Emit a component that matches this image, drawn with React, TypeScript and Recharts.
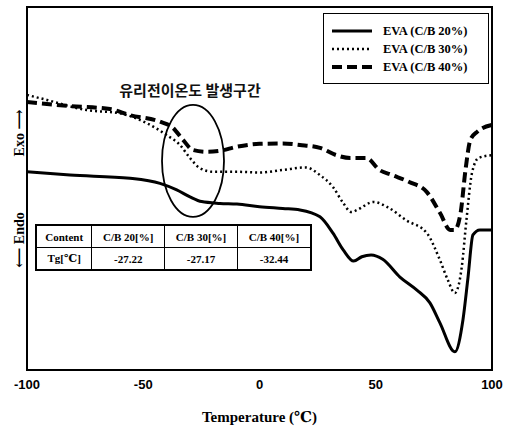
import { LineChart, Line, XAxis, YAxis, ReferenceArea, ReferenceDot } from 'recharts'

const xTicks = [-100, -50, 0, 50, 100]

// C/B 20% (solid)
const temps20 = [-100, -81.5, -55.7, -42.8, -35.6, -29.9, -24.9, -17, -9.7, 0, 10, 17.4, 26, 31.6, 36, 40.5, 44, 48, 53, 60.4, 67.7, 73.3, 77.6, 84, 87.5, 89.7, 91.8, 94.8, 100]
const vals20 = [54.6, 53.7, 52.8, 51.4, 49.6, 47.7, 46.4, 45.9, 45.7, 45.0, 44.5, 44.1, 42.2, 37.7, 33.1, 30.0, 31.2, 31.7, 30.5, 25.6, 22.0, 18.5, 13.0, 5.0, 13.8, 25.6, 37.2, 38.6, 38.6]

// C/B 30% (dotted)
const temps30 = [-100, -91.5, -74.3, -60, -48.5, -39.9, -34.2, -29.9, -25.6, -20, -9.7, 0, 10, 20, 26, 31.6, 36, 39.5, 42, 49, 55, 63, 72, 77.6, 81, 84, 87, 89, 91.4, 94.2, 100]
const vals30 = [75.8, 74.4, 71.6, 70.7, 68.0, 64.7, 62.0, 58.4, 55.6, 54.6, 54.6, 54.4, 55.1, 55.8, 53.7, 50.4, 46.0, 43.5, 44.1, 46.3, 44.9, 41.3, 37.7, 30.3, 24.8, 21.2, 28.4, 41.3, 54.3, 58.4, 59.2]

// C/B 40% (dashed)
const temps40 = [-100, -81.5, -64.3, -55.7, -42.8, -37.2, -32.9, -28.6, -22.6, -17, -9.7, 0, 10, 17.4, 26, 33, 39, 46, 51.6, 57, 64.4, 72, 77.6, 82, 84, 86.5, 88.6, 90.7, 93.6, 100]
const vals40 = [73.8, 72.7, 71.9, 70.2, 68.4, 66.7, 63.4, 60.6, 60.1, 60.4, 61.5, 62.3, 62.4, 62.0, 61.2, 59.2, 58.4, 58.4, 55.1, 53.7, 51.8, 49.0, 43.3, 38.6, 38.6, 43.3, 55.1, 63.4, 65.6, 67.5]

const tableHeader = ['Content', 'C/B 20[%]', 'C/B 30[%]', 'C/B 40[%]']
const tableRow = ['Tg[℃]', '-27.22', '-27.17', '-32.44']

const toPoints = (ts: number[], vs: number[]) => ts.map((t, i) => ({ t, v: vs[i] }))

const series = [
  { name: 'EVA (C/B 20%)', data: toPoints(temps20, vals20), width: 3, dash: undefined },
  { name: 'EVA (C/B 30%)', data: toPoints(temps30, vals30), width: 2.5, dash: '2 3' },
  { name: 'EVA (C/B 40%)', data: toPoints(temps40, vals40), width: 4, dash: '10 5' },
]

const serif = '"Liberation Serif", "DejaVu Serif", serif'

function TgZone(props: any) {
  const { cx, cy } = props
  return (
    <g>
      <ellipse cx={cx} cy={cy} rx={31} ry={56} fill="none" stroke="#000" strokeWidth={1.8} />
      <text x={cx - 3} y={cy - 65} textAnchor="middle" fontSize={15} fontWeight={700}
        fontFamily='"Noto Sans CJK KR", sans-serif' fill="#111">
        유리전이온도 발생구간
      </text>
    </g>
  )
}

export default function App() {
  const cell = { border: '1px solid #000', padding: 0, textAlign: 'center' as const, height: 21 }
  return (
    <div style={{ position: 'absolute', left: 0, top: 0, width: 505, height: 428, background: '#fff' }}>
      <LineChart width={505} height={428} margin={{ top: 7, right: 13, left: 27, bottom: 0 }}>
        <XAxis
          type="number"
          dataKey="t"
          domain={[-100, 100]}
          ticks={xTicks}
          allowDataOverflow
          height={58}
          tickLine={false}
          axisLine={false}
          tickSize={6}
          tickMargin={4}
          tick={{ fill: '#000', fontSize: 13, fontWeight: 700, fontFamily: '"Liberation Sans", Arial, sans-serif' }}
          label={{ value: 'Temperature (℃)', position: 'insideBottom', offset: 6, fill: '#000', fontSize: 15, fontWeight: 700, fontFamily: serif }}
        />
        <YAxis type="number" domain={[0, 100]} hide width={0} />
        <ReferenceArea x1={-100} x2={100} y1={0} y2={100} fill="none" stroke="#000" strokeWidth={2} />
        {series.map((s) => (
          <Line
            key={s.name}
            data={s.data}
            dataKey="v"
            name={s.name}
            type="monotone"
            stroke="#000"
            strokeWidth={s.width}
            strokeDasharray={s.dash}
            dot={false}
            activeDot={false}
            isAnimationActive={false}
          />
        ))}
        <ReferenceDot x={-28.6} y={57.6} r={31} shape={TgZone} />
      </LineChart>

      {/* legend */}
      <div style={{ position: 'absolute', left: 323, top: 13, width: 164, height: 69, border: '1.5px solid #000', background: '#fff', fontFamily: serif, fontWeight: 700, fontSize: 12.5 }}>
        {series.map((s, i) => (
          <div key={s.name} style={{ position: 'absolute', left: 8, top: 11 + i * 18, display: 'flex', alignItems: 'center' }}>
            <svg width={40} height={8}>
              <line x1={0} y1={4} x2={40} y2={4} stroke="#000" strokeWidth={s.width} strokeDasharray={s.dash} />
            </svg>
            <span style={{ marginLeft: 11, lineHeight: '12px' }}>{s.name}</span>
          </div>
        ))}
      </div>

      {/* Tg table */}
      <table style={{ position: 'absolute', left: 35, top: 224, width: 277, borderCollapse: 'collapse', border: '2px solid #000', background: '#fff', fontFamily: serif, fontWeight: 700, fontSize: 11 }}>
        <tbody>
          <tr>{tableHeader.map((h) => <td key={h} style={cell}>{h}</td>)}</tr>
          <tr>{tableRow.map((h) => <td key={h} style={cell}>{h}</td>)}</tr>
        </tbody>
      </table>

      {/* Exo / Endo labels */}
      <div style={{ position: 'absolute', left: 19, top: 133, transform: 'translate(-50%, -50%) rotate(-90deg)', whiteSpace: 'nowrap', fontFamily: serif, fontWeight: 700, fontSize: 14 }}>
        Exo ⟶
      </div>
      <div style={{ position: 'absolute', left: 19, top: 240, transform: 'translate(-50%, -50%) rotate(-90deg)', whiteSpace: 'nowrap', fontFamily: serif, fontWeight: 700, fontSize: 14 }}>
        ⟵ Endo
      </div>
    </div>
  )
}
